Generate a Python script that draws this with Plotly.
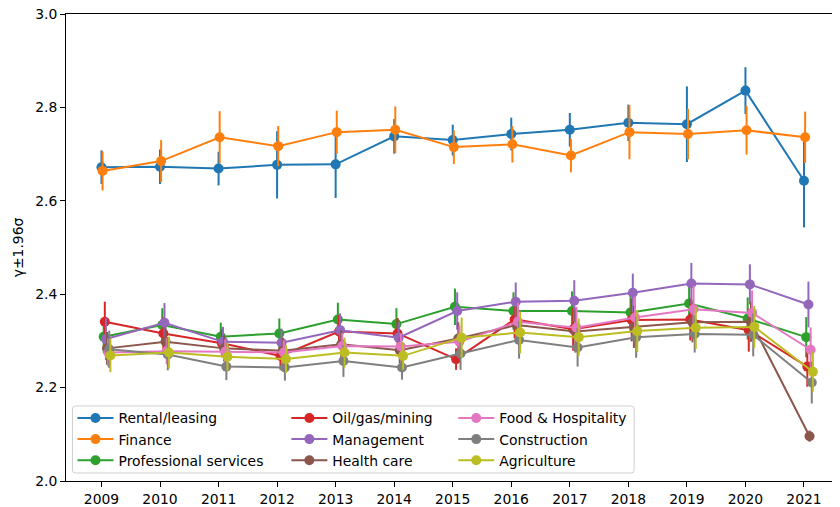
import plotly.graph_objects as go

years = list(range(2009, 2022))

names = ["Rental/leasing", "Finance", "Professional services", "Oil/gas/mining",
         "Management", "Health care", "Food & Hospitality", "Construction", "Agriculture"]
colors = ["#1f77b4", "#ff7f0e", "#2ca02c", "#d62728", "#9467bd",
          "#8c564b", "#e377c2", "#7f7f7f", "#bcbd22"]

rental = [2.672, 2.673, 2.669, 2.677, 2.678, 2.738, 2.730, 2.743, 2.752, 2.767, 2.764, 2.836, 2.643]
rental_err = [0.036, 0.037, 0.036, 0.072, 0.072, 0.037, 0.033, 0.035, 0.036, 0.039, 0.081, 0.050, 0.100]
finance = [2.664, 2.685, 2.736, 2.717, 2.747, 2.752, 2.715, 2.721, 2.697, 2.747, 2.743, 2.751, 2.736]
finance_err = [0.042, 0.045, 0.056, 0.043, 0.046, 0.050, 0.036, 0.039, 0.036, 0.058, 0.054, 0.052, 0.055]
professional = [2.309, 2.334, 2.309, 2.316, 2.346, 2.336, 2.373, 2.364, 2.364, 2.361, 2.380, 2.348, 2.308]
professional_err = [0.035, 0.036, 0.030, 0.032, 0.036, 0.034, 0.039, 0.040, 0.042, 0.043, 0.044, 0.045, 0.043]
oil = [2.341, 2.316, 2.295, 2.268, 2.320, 2.316, 2.261, 2.346, 2.325, 2.345, 2.346, 2.323, 2.245]
oil_err = [0.043, 0.035, 0.030, 0.030, 0.035, 0.033, 0.023, 0.040, 0.046, 0.046, 0.045, 0.046, 0.043]
management = [2.304, 2.339, 2.298, 2.296, 2.323, 2.307, 2.364, 2.384, 2.386, 2.403, 2.423, 2.421, 2.378]
management_err = [0.045, 0.042, 0.032, 0.030, 0.036, 0.033, 0.040, 0.041, 0.044, 0.041, 0.044, 0.043, 0.049]
health = [2.284, 2.298, 2.284, 2.279, 2.293, 2.280, 2.305, 2.334, 2.320, 2.330, 2.340, 2.341, 2.096]
health_err = [0.035, 0.030, 0.028, 0.028, 0.030, 0.028, 0.035, 0.040, 0.045, 0.045, 0.043, 0.043, 0.012]
food = [2.275, 2.278, 2.277, 2.275, 2.289, 2.288, 2.298, 2.341, 2.328, 2.350, 2.368, 2.360, 2.281]
food_err = [0.030, 0.028, 0.026, 0.026, 0.028, 0.028, 0.035, 0.040, 0.045, 0.045, 0.050, 0.048, 0.048]
construction = [2.282, 2.271, 2.245, 2.243, 2.257, 2.243, 2.273, 2.302, 2.286, 2.308, 2.315, 2.313, 2.211]
construction_err = [0.040, 0.034, 0.029, 0.028, 0.034, 0.026, 0.035, 0.040, 0.041, 0.044, 0.040, 0.046, 0.045]
agriculture = [2.269, 2.275, 2.266, 2.261, 2.275, 2.268, 2.307, 2.318, 2.308, 2.321, 2.328, 2.330, 2.234]
agriculture_err = [0.036, 0.034, 0.030, 0.030, 0.032, 0.030, 0.043, 0.045, 0.040, 0.045, 0.045, 0.045, 0.043]

values = [rental, finance, professional, oil, management, health, food, construction, agriculture]
errors = [rental_err, finance_err, professional_err, oil_err, management_err,
          health_err, food_err, construction_err, agriculture_err]

FONT = "DejaVu Sans"
FS = 13.9
# the page body has an 8px margin; the figure is sized so the plot lands in place
OFF = 8
W, H = 840 - OFF, 507 - OFF
L, R, T = 65.5 - OFF, 0, 14 - OFF
B = H - (481 - OFF)
dodge = 0.019

legend_ids = ["legend", "legend", "legend", "legend2", "legend2", "legend2",
              "legend3", "legend3", "legend3"]

fig = go.Figure()
for i, (nm, c, v, e) in enumerate(zip(names, colors, values, errors)):
    fig.add_trace(go.Scatter(
        x=[yr + i * dodge for yr in years], y=v, name=nm,
        mode="lines+markers",
        line=dict(color=c, width=2),
        marker=dict(color=c, size=10, line=dict(width=0)),
        error_y=dict(type="data", array=e, visible=True, color=c, thickness=2, width=0),
        legend=legend_ids[i],
    ))

pw = W - L - R
ph = H - T - B
def px2x(px):  # window pixel -> paper x
    return (px - OFF - L) / pw
def py2y(py):  # window pixel -> paper y
    return (H - B - (py - OFF)) / ph

# legend box geometry (window pixels)
bx0, bx1, by0, by1 = 72, 634, 406, 473
r = 3
x0, x1, y0, y1 = px2x(bx0), px2x(bx1), py2y(by1), py2y(by0)
rx, ry = r / pw, r / ph
path = (f"M {x0+rx},{y0} L {x1-rx},{y0} Q {x1},{y0} {x1},{y0+ry} "
        f"L {x1},{y1-ry} Q {x1},{y1} {x1-rx},{y1} L {x0+rx},{y1} "
        f"Q {x0},{y1} {x0},{y1-ry} L {x0},{y0+ry} Q {x0},{y0} {x0+rx},{y0} Z")
fig.add_shape(type="path", path=path, xref="paper", yref="paper",
              line=dict(color="#d0d0d0", width=1), fillcolor="rgba(255,255,255,0.8)",
              layer="above")

leg_common = dict(xref="paper", yref="paper", xanchor="left", yanchor="top",
                  bgcolor="rgba(0,0,0,0)", borderwidth=0, tracegroupgap=0,
                  itemwidth=36,
                  font=dict(family=FONT, size=FS, color="black"))
col_x = [72, 286, 453]
leg_top = 402.5
fig.update_layout(
    legend=dict(x=px2x(col_x[0]), y=py2y(leg_top), **leg_common),
    legend2=dict(x=px2x(col_x[1]), y=py2y(leg_top), **leg_common),
    legend3=dict(x=px2x(col_x[2]), y=py2y(leg_top), **leg_common),
)

xr0 = 2009 - 35.5 / 58.58
xr1 = 2009 + (840 - 101) / 58.58
fig.update_layout(
    width=W, height=H,
    margin=dict(l=L, r=R, t=T, b=B, pad=0, autoexpand=False),
    paper_bgcolor="white", plot_bgcolor="white",
    font=dict(family=FONT, size=FS, color="black"),
    showlegend=True,
    xaxis=dict(range=[xr0, xr1],
               tickmode="array", tickvals=years, ticktext=[str(y) for y in years],
               showgrid=False, zeroline=False,
               showline=True, linecolor="black", linewidth=1, mirror=True,
               ticks="outside", ticklen=5, tickwidth=1, tickcolor="black",
               ticklabeloverflow="allow",
               tickfont=dict(family=FONT, size=FS, color="black")),
    yaxis=dict(range=[2.0, 3.0], tickmode="array",
               tickvals=[2.0, 2.2, 2.4, 2.6, 2.8, 3.0],
               ticktext=["2.0", "2.2", "2.4", "2.6", "2.8", "3.0"],
               showgrid=False, zeroline=False,
               showline=True, linecolor="black", linewidth=1, mirror=False,
               ticks="outside", ticklen=5, tickwidth=1, tickcolor="black",
               ticklabeloverflow="allow",
               tickfont=dict(family=FONT, size=FS, color="black"),
               title=dict(text="γ±1.96σ", standoff=8,
                          font=dict(family=FONT, size=FS, color="black"))),
)

fig.write_html("out.html")
